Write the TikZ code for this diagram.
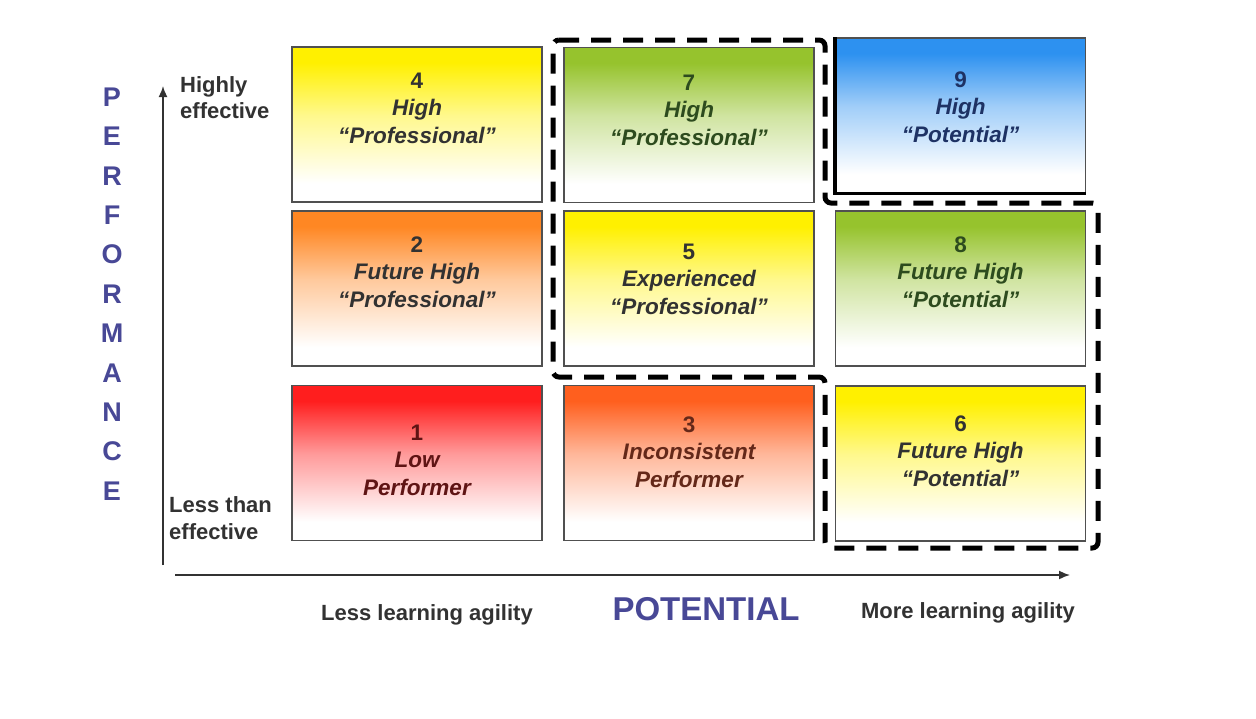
\documentclass[tikz,border=0pt]{standalone}
\usepackage{fontspec}
\setmainfont{Liberation Sans}
\usetikzlibrary{arrows.meta}
\definecolor{cyel}{RGB}{255,240,0}
\definecolor{cgrn}{RGB}{150,195,45}
\definecolor{cblu}{RGB}{45,145,240}
\definecolor{cora}{RGB}{255,135,35}
\definecolor{cred}{RGB}{255,30,30}
\definecolor{cors}{RGB}{255,95,30}
\definecolor{axiscol}{RGB}{72,72,150}
\definecolor{edge}{RGB}{80,80,80}
\definecolor{tdark}{RGB}{50,50,50}
\definecolor{tgrn}{RGB}{45,75,30}
\definecolor{tblu}{RGB}{30,50,100}
\definecolor{tred}{RGB}{95,20,20}
\definecolor{tbrn}{RGB}{100,40,25}
\newcommand\mkcellshade[1]{%
  \colorlet{#1mid}{#1!45!white}%
  \pgfdeclareverticalshading{sh#1}{100bp}{color(0bp)=(white); color(31bp)=(white);
    color(53bp)=(#1mid); color(70bp)=(#1); color(100bp)=(#1)}}
\mkcellshade{cyel}\mkcellshade{cgrn}\mkcellshade{cblu}
\mkcellshade{cora}\mkcellshade{cred}\mkcellshade{cors}
\begin{document}
\begin{tikzpicture}[x=1pt,y=-1pt,
  cell/.style={draw=edge, line width=1.4pt, minimum width=250pt, minimum height=155pt,
    inner sep=0pt, shade, shading=sh#1},
  lbl/.style={align=center, inner sep=0pt, font=\fontsize{22.5}{27.5}\selectfont\bfseries\itshape},
  side/.style={inner sep=0pt, font=\fontsize{22}{26.5}\selectfont\bfseries, text=tdark},
  axis/.style={draw=tdark, line width=1.6pt, -{Latex[length=11pt,width=9pt]}},
  dashline/.style={line width=5pt, dash pattern=on 20pt off 12pt, rounded corners=6pt}]
\useasboundingbox[fill=white] (0,0) rectangle (1256,718);

% cells
\node[cell=cyel] (b4) at (417,124.5) {};
\node[cell=cora] (b2) at (417,288.5) {};
\node[cell=cred] (b1) at (417,463) {};
\node[cell=cgrn] (b7) at (689,125) {};
\node[cell=cyel] (b5) at (689,288.5) {};
\node[cell=cors] (b3) at (689,463) {};
\node[cell=cblu] (b9) at (960.5,115.5) {};
\node[cell=cgrn] (b8) at (960.5,288.5) {};
\node[cell=cyel] (b6) at (960.5,463.5) {};
\draw[line width=3.5pt, black] (b9.north west) -- (b9.south west) -- (b9.south east);

% labels
\node[lbl, text=tdark] (t4) at (417,108) {{\upshape 4}\\High\\“Professional”};
\node[lbl, text=tdark] (t2) at (417,272) {{\upshape 2}\\Future High\\“Professional”};
\node[lbl, text=tred] (t1) at (417,460) {{\upshape 1}\\Low\\Performer};
\node[lbl, text=tgrn] (t7) at (689,110) {{\upshape 7}\\High\\“Professional”};
\node[lbl, text=tdark] (t5) at (689,279) {{\upshape 5}\\Experienced\\“Professional”};
\node[lbl, text=tbrn] (t3) at (689,452) {{\upshape 3}\\Inconsistent\\Performer};
\node[lbl, text=tblu] (t9) at (960.5,107) {{\upshape 9}\\High\\“Potential”};
\node[lbl, text=tgrn] (t8) at (960.5,272) {{\upshape 8}\\Future High\\“Potential”};
\node[lbl, text=tdark] (t6) at (960.5,451) {{\upshape 6}\\Future High\\“Potential”};

% dashed outline
\draw[dashline] (553,40) -- (825,40) -- (825,203) -- (1098,203) -- (1098,548)
  -- (825,548) -- (825,377) -- (553,377) -- cycle;

% axes
\coordinate (ybot) at (163,565);
\coordinate (ytop) at (163,86);
\coordinate (xl) at (175,575);
\coordinate (xr) at (1070,575);
\draw[axis] (ybot) -- (ytop);
\draw[axis] (xl) -- (xr);

% axis texts
\node[align=center, inner sep=0pt, text=axiscol,
  font=\fontsize{27}{39.4}\selectfont\bfseries] (perf) at (112,294)
  {P\\E\\R\\F\\O\\R\\M\\A\\N\\C\\E};
\node[text=axiscol, inner sep=0pt, font=\fontsize{33}{38}\selectfont\bfseries] (pot) at (706,609) {POTENTIAL};
\node[side, align=left, anchor=west] (hi) at (180,97.5) {Highly\\effective};
\node[side, align=left, anchor=west] (lo) at (169,518) {Less than\\effective};
\node[side] (less) at (427,615) {Less learning agility};
\node[side] (more) at (968,613) {More learning agility};
\end{tikzpicture}
\end{document}
